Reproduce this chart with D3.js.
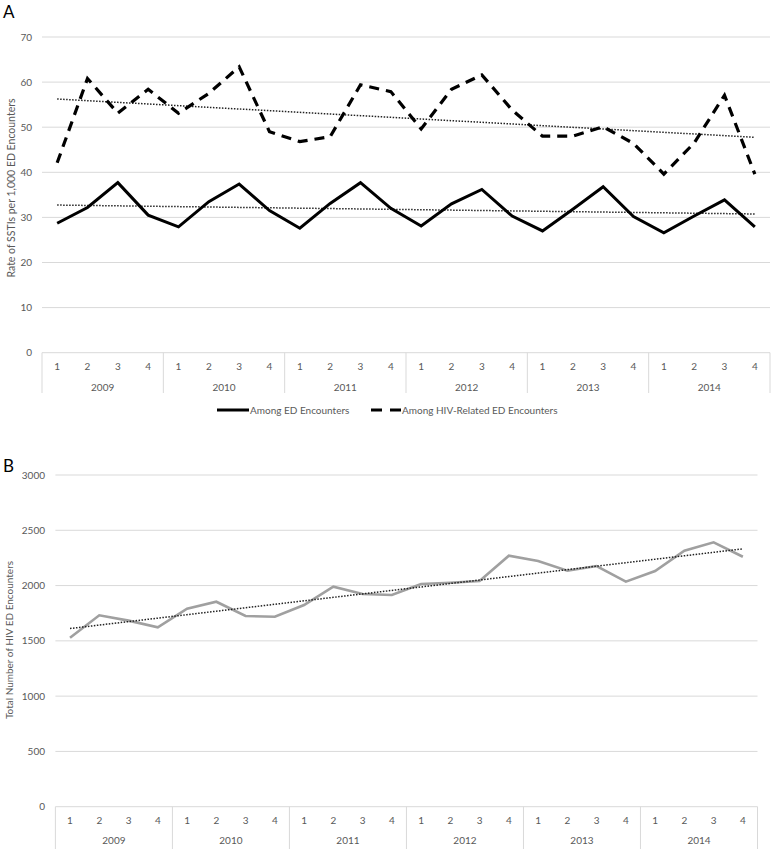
<!DOCTYPE html>
<html>
<head>
<meta charset="utf-8">
<script src="https://cdn.jsdelivr.net/npm/d3@7/dist/d3.min.js"></script>
<style>
  html, body { margin: 0; padding: 0; background: #fff; }
  svg { display: block; }
  text { font-family: Lato, "Open Sans", "Liberation Sans", sans-serif; }
</style>
</head>
<body>
<svg id="chart" width="771" height="849"></svg>
<script>
// ---------- DATA ----------
const years = ["2009", "2010", "2011", "2012", "2013", "2014"];
const quarters = ["1", "2", "3", "4"];
const rateED = [28.7, 32.2, 37.7, 30.5, 27.9, 33.5, 37.4, 31.5, 27.6, 33.1, 37.7, 32.0,
                28.1, 33.0, 36.2, 30.3, 27.0, 31.8, 36.8, 30.2, 26.6, 30.3, 33.9, 27.9];
const rateHIV = [42.1, 60.8, 53.1, 58.4, 53.1, 57.5, 63.4, 49.0, 46.8, 47.9, 59.4, 57.9,
                 49.6, 58.4, 61.6, 53.8, 48.0, 48.0, 50.1, 46.4, 39.6, 46.5, 57.1, 39.6];
const totalHIV = [1528, 1731, 1683, 1622, 1791, 1854, 1725, 1718, 1824, 1990, 1924, 1915,
                  2014, 2026, 2041, 2270, 2222, 2134, 2177, 2035, 2132, 2315, 2391, 2261];
const ticksA = [0, 10, 20, 30, 40, 50, 60, 70];
const ticksB = [0, 500, 1000, 1500, 2000, 2500, 3000];
const legendLabels = ["Among ED Encounters", "Among HIV-Related ED Encounters"];
const titleA = "Rate of SSTIs per 1,000 ED Encounters";
const titleB = "Total Number of HIV ED Encounters";

const cats = [];
years.forEach(y => quarters.forEach(q => cats.push(y + "-" + q)));

const svg = d3.select("#chart");
const gridColor = "#d9d9d9";
const labelColor = "#595959";

function trend(vals) {
  const n = vals.length;
  const xs = d3.range(n);
  const mx = d3.mean(xs), my = d3.mean(vals);
  let num = 0, den = 0;
  xs.forEach((x, i) => { num += (x - mx) * (vals[i] - my); den += (x - mx) * (x - mx); });
  const b = num / den, a = my - b * mx;
  return xs.map(x => a + b * x);
}

function panel(opts) {
  const { x0, x1, yTop, yBot, domainMax, ticks, tickLabelX, yTickFont } = opts;
  const x = d3.scaleBand().domain(cats).range([x0, x1]);
  const y = d3.scaleLinear().domain([0, domainMax]).range([yBot, yTop]);
  const g = svg.append("g");

  // gridlines
  g.append("g").selectAll("line").data(ticks).join("line")
    .attr("x1", x0).attr("x2", x1)
    .attr("y1", d => y(d)).attr("y2", d => y(d))
    .attr("stroke", gridColor).attr("stroke-width", 1);

  // y tick labels
  g.append("g").selectAll("text").data(ticks).join("text")
    .attr("x", tickLabelX).attr("y", d => y(d)).attr("dy", "0.35em")
    .attr("text-anchor", "end").attr("fill", labelColor)
    .attr("font-size", yTickFont).text(d => d);

  // x axis category dividers
  const yb = x.bandwidth() * 4;
  const divX = d3.range(years.length + 1).map(i => x0 + i * yb);
  g.append("g").selectAll("line").data(divX).join("line")
    .attr("x1", d => d).attr("x2", d => d)
    .attr("y1", yBot).attr("y2", opts.divBottom)
    .attr("stroke", gridColor).attr("stroke-width", 1);

  // quarter labels
  g.append("g").selectAll("text").data(cats).join("text")
    .attr("x", d => x(d) + x.bandwidth() / 2).attr("y", opts.qY)
    .attr("text-anchor", "middle").attr("fill", labelColor)
    .attr("font-size", 10).attr("dy", "0.35em")
    .text(d => d.split("-")[1]);

  // year labels
  g.append("g").selectAll("text").data(years).join("text")
    .attr("x", d => x(d + "-1") + yb / 2).attr("y", opts.yearY)
    .attr("text-anchor", "middle").attr("fill", labelColor)
    .attr("font-size", 10).attr("dy", "0.35em")
    .text(d => d);

  return { g, x, y };
}

const line = (x, y) => d3.line().x((d, i) => x(cats[i]) + x.bandwidth() / 2).y(d => y(d));

// ---------- PANEL A ----------
const A = panel({ x0: 42, x1: 770, yTop: 37, yBot: 352.7, domainMax: 70, ticks: ticksA,
  tickLabelX: 32, yTickFont: 10, divBottom: 393, qY: 366.7, yearY: 387 });

const lA = line(A.x, A.y);
A.g.append("path").datum(trend(rateED)).attr("d", lA)
  .attr("fill", "none").attr("stroke", "#222").attr("stroke-width", 1.5)
  .attr("stroke-dasharray", "1.5,1.5");
A.g.append("path").datum(trend(rateHIV)).attr("d", lA)
  .attr("fill", "none").attr("stroke", "#222").attr("stroke-width", 1.5)
  .attr("stroke-dasharray", "1.5,1.5");
A.g.append("path").datum(rateED).attr("d", lA)
  .attr("fill", "none").attr("stroke", "#000").attr("stroke-width", 3)
  .attr("stroke-linejoin", "miter");
A.g.append("path").datum(rateHIV).attr("d", lA)
  .attr("fill", "none").attr("stroke", "#000").attr("stroke-width", 3.2)
  .attr("stroke-dasharray", "10,7");

svg.append("text").attr("x", 3).attr("y", 18).attr("font-size", 17)
  .attr("font-family", "Liberation Sans, Arial, sans-serif").attr("fill", "#000").text("A");

svg.append("text")
  .attr("transform", "translate(15,188) rotate(-90)")
  .attr("text-anchor", "middle").attr("fill", labelColor).attr("font-size", 10.5)
  .text(titleA);

// legend
const lg = svg.append("g");
lg.append("line").attr("x1", 217).attr("x2", 249).attr("y1", 410).attr("y2", 410)
  .attr("stroke", "#000").attr("stroke-width", 3);
lg.append("text").attr("x", 250).attr("y", 410).attr("dy", "0.35em")
  .attr("font-size", 10).attr("fill", labelColor).text(legendLabels[0]);
lg.append("line").attr("x1", 371).attr("x2", 401).attr("y1", 410).attr("y2", 410)
  .attr("stroke", "#000").attr("stroke-width", 3.2).attr("stroke-dasharray", "11,8");
lg.append("text").attr("x", 402).attr("y", 410).attr("dy", "0.35em")
  .attr("font-size", 10).attr("fill", labelColor).text(legendLabels[1]);

// ---------- PANEL B ----------
const B = panel({ x0: 55.4, x1: 757.5, yTop: 475, yBot: 806.7, domainMax: 3000, ticks: ticksB,
  tickLabelX: 45, yTickFont: 10, divBottom: 849, qY: 820.5, yearY: 840 });
const lB = line(B.x, B.y);
B.g.append("path").datum(totalHIV).attr("d", lB)
  .attr("fill", "none").attr("stroke", "#a0a0a0").attr("stroke-width", 2.6);
B.g.append("path").datum(trend(totalHIV)).attr("d", lB)
  .attr("fill", "none").attr("stroke", "#222").attr("stroke-width", 1.5)
  .attr("stroke-dasharray", "1.5,1.5");

svg.append("text").attr("x", 3).attr("y", 472).attr("font-size", 17)
  .attr("font-family", "Liberation Sans, Arial, sans-serif").attr("fill", "#000").text("B");

svg.append("text")
  .attr("transform", "translate(13,640) rotate(-90)")
  .attr("text-anchor", "middle").attr("fill", labelColor).attr("font-size", 10)
  .text(titleB);
</script>
</body>
</html>
